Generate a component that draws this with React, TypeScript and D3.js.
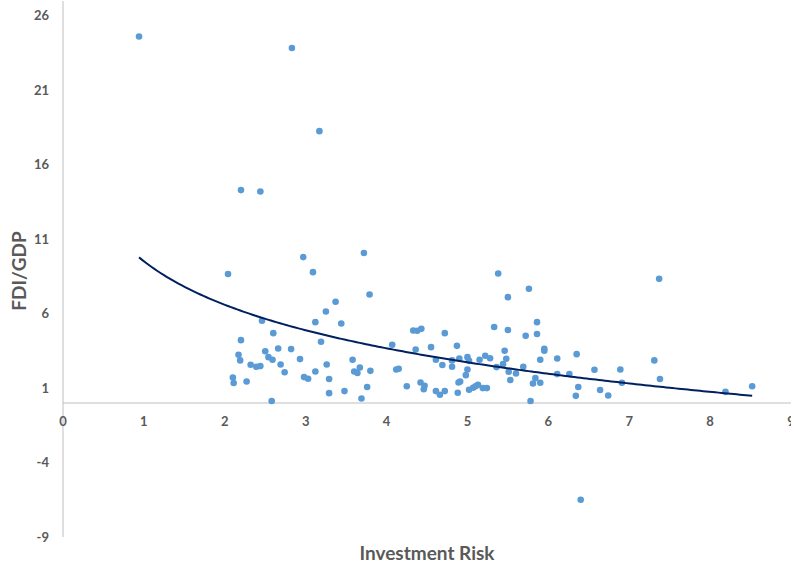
import React from "react";
import * as d3 from "d3";

// Investment risk score per country (x) and FDI as % of GDP (y)
const riskValues: number[] = [
  0.94, 2.83, 3.17, 2.2, 2.44, 6.4,
  2.04, 2.97, 3.09, 3.72, 3.79, 3.37, 3.25, 3.12, 3.44, 2.46, 2.6, 2.2, 3.19, 4.07,
  2.17, 2.19, 2.5, 2.66, 2.82, 2.54, 2.59, 2.93, 2.32, 2.39, 2.44, 2.69, 2.74, 3.26,
  3.58, 3.6, 3.64, 3.67, 3.8, 4.12, 4.15, 3.12, 2.98, 3.03, 2.1, 2.11, 2.27, 3.29,
  3.29, 3.48, 3.76, 3.69, 2.58,
  4.25, 4.33, 4.38, 4.43, 4.36, 4.42, 4.47, 4.46, 4.55, 4.61, 4.61, 4.66, 4.72, 4.69,
  4.72, 4.81, 4.81, 4.87, 4.9, 4.89, 4.91, 4.88, 5.0, 5.02, 5.0, 4.98, 5.02, 5.07,
  5.1, 5.13, 5.19, 5.24, 5.15, 5.22, 5.28, 5.33, 5.38, 5.5, 5.5, 5.36, 5.44, 5.46,
  5.48, 5.51, 5.53, 5.6, 5.69, 5.72, 5.76, 5.86, 5.86, 5.95, 5.95, 5.9, 5.84, 5.81,
  5.9, 5.78, 6.11, 6.11, 6.26, 6.35, 6.37, 6.34,
  6.57, 6.64, 6.74, 6.89, 6.91, 7.31, 7.37, 7.38, 8.19, 8.52,
];

const fdiValues: number[] = [
  24.62, 23.84, 18.26, 14.3, 14.21, -6.5,
  8.66, 9.8, 8.79, 10.07, 7.29, 6.8, 6.15, 5.43, 5.34, 5.52, 4.69, 4.22, 4.11, 3.91,
  3.24, 2.86, 3.48, 3.66, 3.62, 3.08, 2.9, 2.95, 2.57, 2.43, 2.48, 2.59, 2.07, 2.59,
  2.9, 2.12, 2.01, 2.38, 2.16, 2.25, 2.3, 2.12, 1.74, 1.63, 1.71, 1.34, 1.44, 1.61,
  0.66, 0.8, 1.07, 0.3, 0.13,
  1.13, 4.87, 4.85, 4.98, 3.59, 1.38, 1.16, 0.93, 3.75, 2.9, 0.8, 0.55, 0.8, 2.55,
  4.69, 2.86, 2.43, 3.84, 2.99, 1.38, 1.44, 0.69, 3.08, 2.83, 2.25, 1.87, 0.89, 1.02,
  1.13, 1.22, 1.0, 1.0, 2.9, 3.17, 3.01, 5.1, 8.7, 7.11, 4.9, 2.41, 2.61, 3.51,
  2.97, 2.1, 1.54, 1.98, 2.43, 4.51, 7.67, 5.43, 4.63, 3.64, 3.51, 2.9, 1.67, 1.31,
  1.36, 0.13, 2.99, 1.94, 1.94, 3.28, 1.07, 0.48,
  2.23, 0.87, 0.5, 2.25, 1.36, 2.86, 8.34, 1.61, 0.75, 1.13,
];

// Logarithmic trend: y = a + b * ln(x)
const trendIntercept = 9.52;
const trendSlope = -4.217;

const xTicks: number[] = [0, 1, 2, 3, 4, 5, 6, 7, 8, 9];
const yTicks: number[] = [-9, -4, 1, 6, 11, 16, 21, 26];

const width = 791;
const height = 567;
const plotLeft = 63;
const plotRight = 791;
const plotTop = 1;
const plotBottom = 537;

const labelColor = "#595959";
const axisColor = "#BFBFBF";
const dotColor = "#5B9BD5";
const trendColor = "#002060";
const font = "Lato, 'Open Sans', sans-serif";

export default function App() {
  const x = d3.scaleLinear().domain([0, 9]).range([plotLeft, plotRight]);
  const y = d3.scaleLinear().domain([-9, 27]).range([plotBottom, plotTop]);

  const points = riskValues.map((r, i) => ({ r, f: fdiValues[i] }));

  const [xMin, xMax] = d3.extent(riskValues) as [number, number];
  const trendXs = d3.range(0, 201).map((i) => xMin + ((xMax - xMin) * i) / 200);
  const trendPath = d3
    .line<number>()
    .x((v) => x(v))
    .y((v) => y(trendIntercept + trendSlope * Math.log(v)))
    .curve(d3.curveLinear)(trendXs);

  return (
    <svg
      width={width}
      height={height}
      style={{ position: "absolute", left: 0, top: 0, background: "#fff" }}
      fontFamily={font}
    >
      {/* axes */}
      <line x1={x(0)} x2={x(0)} y1={plotTop} y2={plotBottom} stroke={axisColor} strokeWidth={1} />
      <line x1={plotLeft} x2={plotRight} y1={y(0)} y2={y(0)} stroke={axisColor} strokeWidth={1} />

      {/* y tick labels */}
      {yTicks.map((t) => (
        <text
          key={`y${t}`}
          x={49}
          y={y(t)}
          dy="0.35em"
          textAnchor="end"
          fontSize={13}
          fontWeight={700}
          fill={labelColor}
        >
          {t}
        </text>
      ))}

      {/* x tick labels */}
      {xTicks.map((t) => (
        <text
          key={`x${t}`}
          x={x(t)}
          y={y(0) + 18.5}
          dy="0.35em"
          textAnchor="middle"
          fontSize={13}
          fontWeight={700}
          fill={labelColor}
        >
          {t}
        </text>
      ))}

      {/* scatter points */}
      {points.map((p, i) => (
        <circle key={i} cx={x(p.r)} cy={y(p.f)} r={3.3} fill={dotColor} />
      ))}

      {/* trend line */}
      <path d={trendPath ?? ""} fill="none" stroke={trendColor} strokeWidth={2} />

      {/* axis titles */}
      <text
        x={427}
        y={553}
        dy="0.35em"
        textAnchor="middle"
        fontSize={19}
        fontWeight={700}
        fill={labelColor}
      >
        Investment Risk
      </text>
      <text
        transform={`translate(19, 271) rotate(-90)`}
        dy="0.35em"
        textAnchor="middle"
        fontSize={19}
        fontWeight={700}
        fill={labelColor}
      >
        FDI/GDP
      </text>
    </svg>
  );
}
